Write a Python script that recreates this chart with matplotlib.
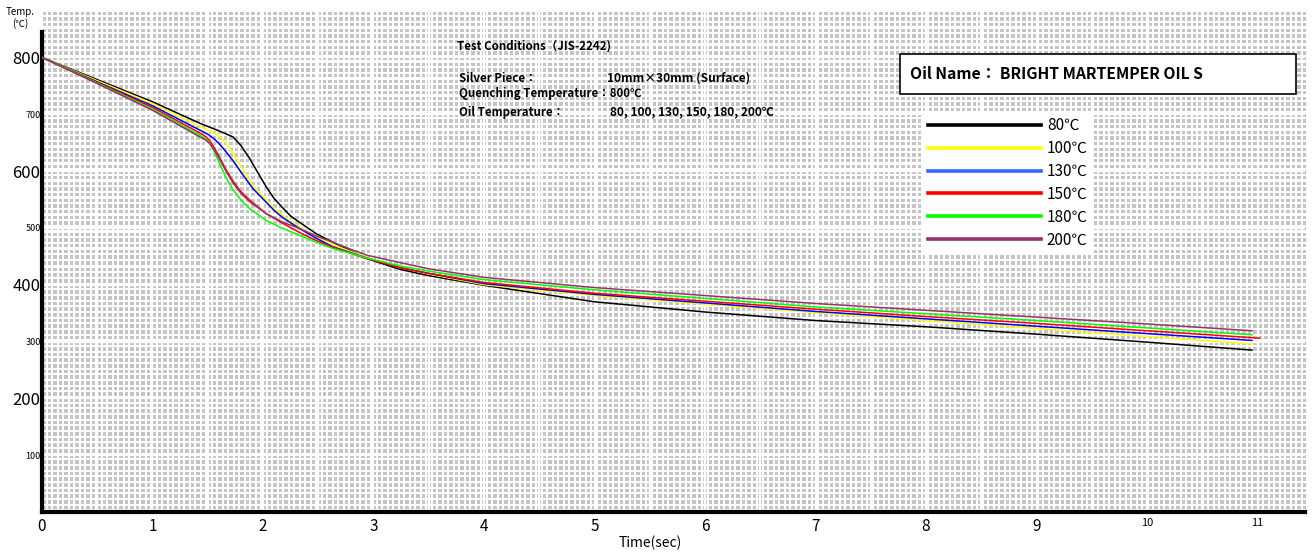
import numpy as np
import matplotlib
matplotlib.use("Agg")
import matplotlib.pyplot as plt
from matplotlib.patches import Rectangle

plt.rcParams["font.family"] = ["Noto Sans CJK JP", "DejaVu Sans"]

# cooling curves: time (sec) vs temperature (C)
t_80 = [0, 0.5, 1.0, 1.43, 1.6, 1.73, 1.8, 1.88, 1.96, 2.03, 2.1, 2.18, 2.25, 2.33, 2.48, 2.63, 2.8, 2.94, 3.24, 3.5, 4, 5, 6, 7, 8, 9, 10, 10.95]
T_80 = [800, 761, 722, 684, 671, 660, 645, 622, 595, 572, 552, 535, 521, 510, 490, 475, 459, 446, 427, 416, 399, 370, 352, 337, 326, 313, 299, 285]

t_100 = [0, 0.5, 1.0, 1.43, 1.52, 1.58, 1.63, 1.67, 1.73, 1.82, 1.91, 2.03, 2.1, 2.18, 2.33, 2.48, 2.63, 2.8, 2.94, 3.24, 3.5, 4, 5, 6, 7, 8, 9, 10, 10.95]
T_100 = [800, 759, 719, 678, 671, 665, 657, 648, 631, 602, 574, 549, 535, 522, 501, 485, 471, 458, 448, 431, 419, 400, 381, 366, 351, 337, 323, 309, 296]

t_130 = [0, 0.5, 1.0, 1.43, 1.5, 1.55, 1.6, 1.64, 1.73, 1.82, 1.91, 2.03, 2.1, 2.18, 2.33, 2.48, 2.63, 2.8, 2.94, 3.24, 3.5, 4, 5, 6, 7, 8, 9, 10, 10.95]
T_130 = [800, 757, 715, 672, 665, 658, 649, 640, 618, 593, 569, 545, 531, 518, 499, 482, 467, 456, 447, 430, 420, 402, 383, 368, 353, 340, 327, 314, 302]

t_150 = [0, 0.5, 1.0, 1.43, 1.48, 1.52, 1.56, 1.61, 1.67, 1.73, 1.8, 1.88, 2.03, 2.18, 2.33, 2.48, 2.63, 2.8, 2.94, 3.24, 3.5, 4, 5, 6, 7, 8, 9, 10, 11.02]
T_150 = [800, 756, 712, 667, 661, 653, 641, 623, 601, 582, 564, 549, 525, 508, 492, 478, 466, 455, 446, 430, 420, 404, 385, 371, 357, 344, 332, 319, 306]

t_180 = [0, 0.5, 1.0, 1.43, 1.48, 1.52, 1.56, 1.61, 1.67, 1.73, 1.8, 1.88, 2.03, 2.18, 2.33, 2.48, 2.63, 2.8, 2.94, 3.24, 3.5, 4, 5, 6, 7, 8, 9, 10, 10.95]
T_180 = [800, 755, 709, 663, 657, 648, 634, 612, 587, 567, 549, 534, 513, 499, 487, 475, 464, 455, 447, 433, 424, 409, 391, 376, 361, 349, 337, 324, 312]

t_200 = [0, 0.5, 1.0, 1.43, 1.48, 1.52, 1.56, 1.61, 1.67, 1.73, 1.8, 1.88, 2.03, 2.18, 2.33, 2.48, 2.63, 2.8, 2.94, 3.24, 3.5, 4, 5, 6, 7, 8, 9, 10, 10.95]
T_200 = [800, 754, 707, 660, 655, 648, 637, 620, 598, 579, 561, 546, 525, 510, 499, 486, 475, 462, 452, 439, 428, 413, 395, 381, 367, 355, 343, 331, 319]

labels = ["80℃", "100℃", "130℃", "150℃", "180℃", "200℃"]
colors = ["black", "#ffff00", "#0000ff", "#ff0000", "#00ff00", "#993366"]
leg_colors = ["black", "#ffff00", "#3366ff", "#ff0000", "#00ff00", "#993366"]
series = [(t_80, T_80), (t_100, T_100), (t_130, T_130), (t_150, T_150), (t_180, T_180), (t_200, T_200)]

xticks = list(range(0, 12))
yticks = [100, 200, 300, 400, 500, 600, 700, 800]

XMAX, YMAX = 11.43, 880

fig = plt.figure(figsize=(13.12, 5.53), dpi=100)
ax = fig.add_axes([0.032, 0.0741, 0.9627, 0.9042])

# dotted grey backdrop
h, w = 500, 1263
cols = np.arange(w)
rows = np.arange(h)
cx = ((cols / 5.5) % 1.0) < 0.62
cy = ((rows / 5.67) % 1.0) < 0.62
mask = np.outer(cy, cx)
img = np.where(mask[..., None], np.array([0.77, 0.77, 0.77]), np.array([1.0, 1.0, 1.0]))
ax.imshow(img, extent=(0, XMAX, 0, YMAX), aspect="auto", interpolation="nearest", zorder=0)

ax.set_xlim(0, XMAX)
ax.set_ylim(0, YMAX)
ax.set_xticks(xticks)
ax.set_xticks(np.arange(0.5, 11.5, 1.0), minor=True)
ax.set_yticks(yticks)
ax.grid(True, which="both", color="white", lw=1.6, zorder=0.5)
ax.tick_params(length=0, which="both")

ax.set_xticklabels([str(v) for v in xticks])
for lab, v in zip(ax.get_xticklabels(), xticks):
    lab.set_fontsize(8 if v >= 10 else 11)
ax.tick_params(axis="x", pad=4)
ax.set_yticklabels([str(v) for v in yticks])
for lab, v in zip(ax.get_yticklabels(), yticks):
    lab.set_fontsize(12 if v % 200 == 0 else 6.5)
ax.tick_params(axis="y", pad=1)

for s in ["top", "right"]:
    ax.spines[s].set_visible(False)
ax.spines["left"].set_linewidth(3)
ax.spines["bottom"].set_linewidth(3)
ax.spines["left"].set_bounds(0, 845)

handles = []
for (tt, TT), c in zip(series, colors):
    ax.plot(tt, TT, color=c, lw=1.1, zorder=3, solid_joinstyle="round")
for c, lab in zip(leg_colors, labels):
    handles.append(plt.Line2D([], [], color=c, lw=2.6, label=lab))

leg = ax.legend(handles=handles, loc="upper left", bbox_to_anchor=(0.697, 0.80),
                fontsize=11, handlelength=7.4, handletextpad=0.4, labelspacing=0.38,
                borderpad=0.35, borderaxespad=0, frameon=True, fancybox=False,
                facecolor="white", edgecolor="none", framealpha=1)

# oil name box
ax.add_patch(Rectangle((0.679, 0.836), 0.3135, 0.08, transform=ax.transAxes,
                       facecolor="white", edgecolor="black", lw=1.2, zorder=4))
ax.text(0.687, 0.876, "Oil Name： BRIGHT MARTEMPER OIL S", transform=ax.transAxes,
        fontsize=11.3, fontweight="bold", va="center", ha="left", zorder=5)

# test conditions
ax.text(0.3286, 0.932, "Test Conditions（JIS-2242)", transform=ax.transAxes,
        fontsize=8.3, fontweight="bold", va="center", zorder=5)
ax.text(0.330, 0.868, "Silver Piece：", transform=ax.transAxes,
        fontsize=8.3, fontweight="bold", va="center", zorder=5)
ax.text(0.447, 0.868, "10mm×30mm (Surface)", transform=ax.transAxes,
        fontsize=8.6, fontweight="bold", va="center", zorder=5)
ax.text(0.330, 0.838, "Quenching Temperature：800℃", transform=ax.transAxes,
        fontsize=8.3, fontweight="bold", va="center", zorder=5)
ax.text(0.330, 0.800, "Oil Temperature：", transform=ax.transAxes,
        fontsize=8.3, fontweight="bold", va="center", zorder=5)
ax.text(0.4497, 0.800, "80, 100, 130, 150, 180, 200℃", transform=ax.transAxes,
        fontsize=8.6, fontweight="bold", va="center", zorder=5)

fig.text(20 / 1312, 1 - 18 / 553, "Temp.\n(℃)", fontsize=7, ha="center", va="center",
         linespacing=1.1)
fig.text(650 / 1312, 1 - 543 / 553, "Time(sec)", fontsize=10, ha="center", va="center")

fig.savefig("out.png", dpi=100)
